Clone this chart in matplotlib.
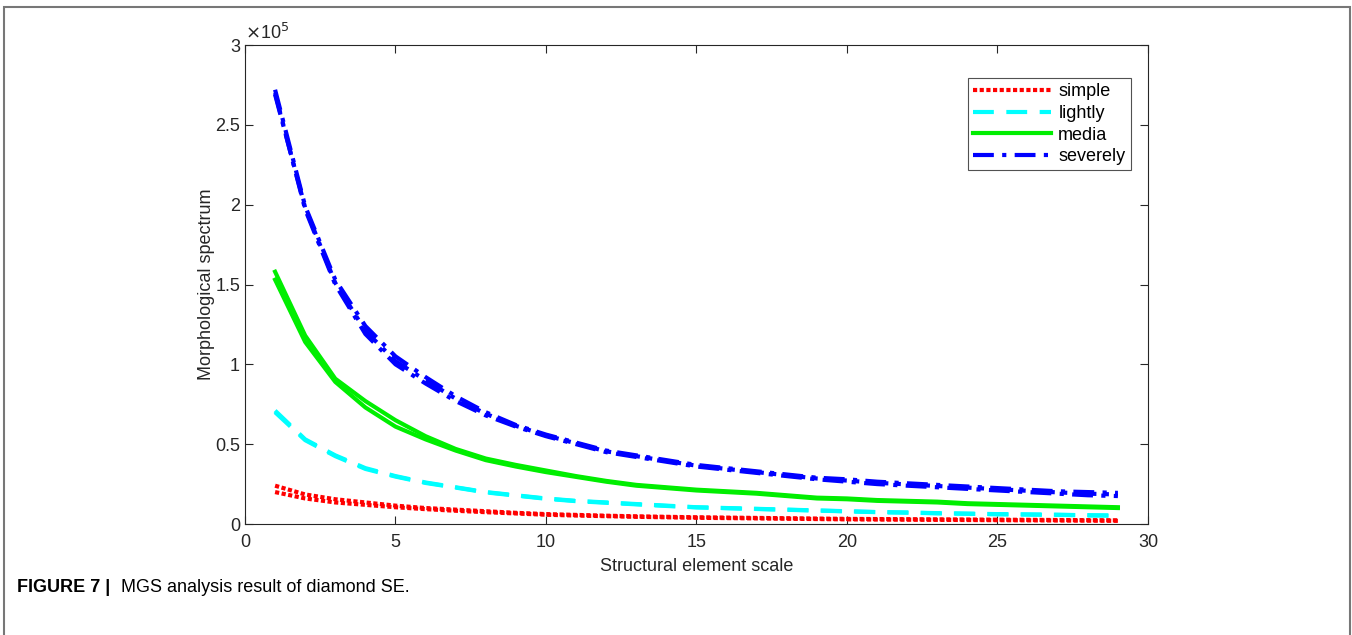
import matplotlib.pyplot as plt
from matplotlib.patches import Rectangle
import numpy as np

plt.rcParams['font.family'] = ['Liberation Sans', 'DejaVu Sans']

scale = list(range(1, 30))

# values in units of 1e5
simple_a = [0.24, 0.185, 0.155, 0.135, 0.115, 0.10, 0.09, 0.08, 0.07, 0.062, 0.057, 0.052, 0.048, 0.045, 0.042,
            0.04, 0.038, 0.036, 0.034, 0.032, 0.031, 0.03, 0.029, 0.028, 0.027, 0.026, 0.025, 0.024, 0.023]
simple_b = [0.20, 0.16, 0.135, 0.12, 0.105, 0.093, 0.083, 0.074, 0.066, 0.058, 0.053, 0.049, 0.045, 0.042, 0.039,
            0.037, 0.035, 0.033, 0.031, 0.029, 0.028, 0.027, 0.026, 0.025, 0.024, 0.023, 0.022, 0.021, 0.020]
lightly_a = [0.71, 0.53, 0.43, 0.35, 0.30, 0.26, 0.23, 0.20, 0.18, 0.16, 0.145, 0.135, 0.125, 0.115, 0.105,
             0.10, 0.095, 0.09, 0.085, 0.08, 0.075, 0.072, 0.068, 0.065, 0.062, 0.06, 0.058, 0.055, 0.053]
lightly_b = [0.70, 0.525, 0.425, 0.345, 0.297, 0.257, 0.228, 0.198, 0.178, 0.158, 0.143, 0.133, 0.123, 0.113, 0.104,
             0.099, 0.094, 0.089, 0.084, 0.079, 0.074, 0.071, 0.067, 0.064, 0.061, 0.059, 0.057, 0.054, 0.052]
media_a = [1.58, 1.18, 0.91, 0.77, 0.65, 0.55, 0.47, 0.41, 0.37, 0.335, 0.30, 0.27, 0.245, 0.23, 0.215,
           0.205, 0.195, 0.18, 0.165, 0.16, 0.15, 0.145, 0.14, 0.13, 0.125, 0.12, 0.115, 0.11, 0.105]
media_b = [1.53, 1.14, 0.89, 0.73, 0.61, 0.53, 0.46, 0.40, 0.36, 0.325, 0.295, 0.265, 0.24, 0.225, 0.21,
           0.20, 0.19, 0.175, 0.16, 0.155, 0.145, 0.14, 0.135, 0.125, 0.12, 0.115, 0.11, 0.105, 0.10]
severely_a = [2.72, 1.99, 1.53, 1.24, 1.05, 0.92, 0.80, 0.70, 0.62, 0.56, 0.51, 0.46, 0.43, 0.40, 0.37,
              0.35, 0.33, 0.31, 0.29, 0.28, 0.265, 0.255, 0.245, 0.235, 0.225, 0.215, 0.205, 0.20, 0.195]
severely_b = [2.70, 1.97, 1.50, 1.19, 1.00, 0.88, 0.77, 0.68, 0.61, 0.55, 0.50, 0.45, 0.42, 0.39, 0.36,
              0.34, 0.32, 0.30, 0.28, 0.265, 0.25, 0.24, 0.23, 0.22, 0.21, 0.20, 0.19, 0.18, 0.175]
severely_c = [2.69, 1.98, 1.51, 1.21, 1.02, 0.90, 0.785, 0.69, 0.615, 0.555, 0.505, 0.455, 0.425, 0.395, 0.365,
              0.345, 0.325, 0.305, 0.285, 0.272, 0.258, 0.248, 0.238, 0.228, 0.218, 0.208, 0.198, 0.19, 0.185]

fig = plt.figure(figsize=(13.52, 6.35), dpi=100)
ax = fig.add_axes([0.1812, 0.1748, 0.6679, 0.7543])

lw = 3
dot = (0, (1, 0.6))
dash = (0, (5, 3))
dashdot = (0, (5, 2, 1, 2))
ax.plot(scale, simple_a, color='red', linestyle=dot, lw=lw, label='simple')
ax.plot(scale, simple_b, color='red', linestyle=dot, lw=lw)
ax.plot(scale, lightly_a, color='cyan', linestyle=dash, lw=lw, label='lightly')
ax.plot(scale, lightly_b, color='cyan', linestyle=dash, lw=lw)
ax.plot(scale, media_a, color='#00ee00', linestyle='-', lw=lw, label='media')
ax.plot(scale, media_b, color='#00ee00', linestyle='-', lw=lw)
ax.plot(scale, severely_a, color='blue', linestyle=dashdot, lw=lw, label='severely')
ax.plot(scale, severely_b, color='blue', linestyle=dashdot, lw=lw)
ax.plot(scale, severely_c, color='blue', linestyle=dashdot, lw=lw)

ax.set_xlim(0, 30)
ax.set_ylim(0, 3)
ax.set_xticks(np.arange(0, 31, 5))
ax.set_yticks([0, 0.5, 1, 1.5, 2, 2.5, 3])
ax.set_yticklabels(['0', '0.5', '1', '1.5', '2', '2.5', '3'])
ax.tick_params(direction='in', top=True, right=True, labelsize=13, colors='#262626', length=6)
ax.tick_params(axis='x', pad=7)
for s in ax.spines.values():
    s.set_color('#262626')
    s.set_linewidth(0.8)
ax.text(0.0, 1.005, r'$\times$10$^5$', transform=ax.transAxes, fontsize=13, color='#262626',
        ha='left', va='bottom')

ax.set_xlabel('Structural element scale', fontsize=13, color='#262626', labelpad=5)
ax.set_ylabel('Morphological spectrum', fontsize=13, color='#262626', labelpad=0)

leg = ax.legend(loc='upper right', bbox_to_anchor=(0.981, 0.931), fontsize=13, handlelength=4.3,
                frameon=True, fancybox=False, edgecolor='#262626', borderpad=0.3, labelspacing=0.25,
                handletextpad=0.4, borderaxespad=0)
leg.get_frame().set_linewidth(0.8)

# outer frame of the figure panel
fig.patches.append(Rectangle((4 / 1352, -0.1), 1346 / 1352, 1.1 - 7 / 635, transform=fig.transFigure,
                             fill=False, edgecolor='#777777', lw=1.5))

fig.text(17 / 1352, 1 - 587 / 635, 'FIGURE 7 |', fontsize=13, fontweight='bold', va='center', ha='left')
fig.text(121 / 1352, 1 - 587 / 635, 'MGS analysis result of diamond SE.', fontsize=13, va='center', ha='left')

fig.savefig('out.png', dpi=100)
